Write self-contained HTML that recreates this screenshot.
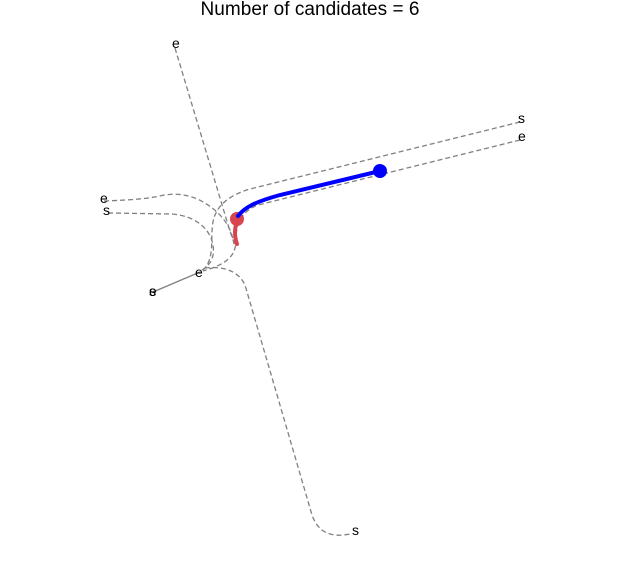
<!DOCTYPE html>
<html><head><meta charset="utf-8"><style>
body{margin:0;background:#fff}
svg{display:block;font-family:"Liberation Sans","DejaVu Sans",sans-serif}
</style></head><body>
<svg width="620" height="561" viewBox="0 0 620 561">
<text x="310" y="15" text-anchor="middle" font-size="19" textLength="219">Number of candidates = 6</text>
<g fill="none" stroke="#808080" stroke-width="1.3" stroke-dasharray="5,3">
<path d="M175,48 L229,228 L235,246"/>
<path d="M520,122 L250,189 C230,195 216,205 213,222 C210,238 215,255 205,268 L200,272"/>
<path d="M520,140 L258,205 C240,212 236,225 236,240 C236,255 228,264 203,271"/>
<path d="M104,201 C130,200 145,199 160,196 C185,190 205,200 220,215 C228,224 232,232 234,244"/>
<path d="M108,213 L172,214 C195,216 210,228 213,245 C215,258 210,265 202,270"/>
<path d="M205,268 C222,266 238,270 245,285 L312,515 C318,532 330,538 350,534"/>
</g>
<path d="M200,272 L153,292" stroke="#808080" stroke-width="1.3" fill="none"/>
<path d="M237,219 C236,226 233,232 237,244" stroke="#d9444f" stroke-width="4" fill="none" stroke-linecap="round"/>
<circle cx="237" cy="219" r="7" fill="#d9444f"/>
<path d="M238,216 C245,207 255,202 280,195 L380,171" stroke="#0000ff" stroke-width="4" fill="none" stroke-linecap="round"/>
<circle cx="380" cy="171" r="7" fill="#0000ff"/>
<g font-size="14" fill="#000">
<text x="172" y="48">e</text>
<text x="518" y="123">s</text>
<text x="518" y="141">e</text>
<text x="100" y="203">e</text>
<text x="103" y="215">s</text>
<text x="195" y="277">e</text>
<text x="149" y="296">s</text>
<text x="149" y="296">e</text>
<text x="352" y="535">s</text>
</g>
</svg>
</body></html>
